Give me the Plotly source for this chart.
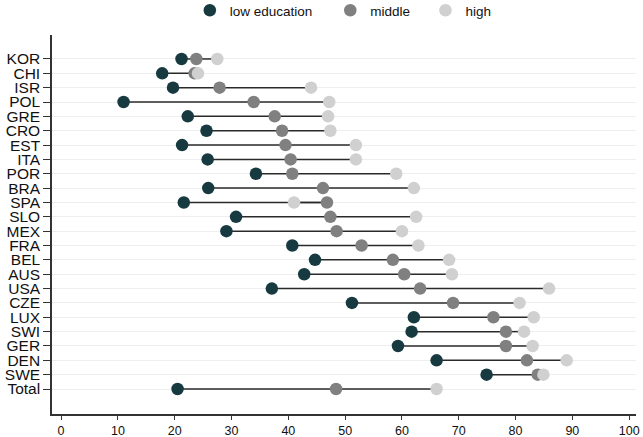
import plotly.graph_objects as go

countries = ["KOR", "CHI", "ISR", "POL", "GRE", "CRO", "EST", "ITA", "POR", "BRA", "SPA", "SLO",
             "MEX", "FRA", "BEL", "AUS", "USA", "CZE", "LUX", "SWI", "GER", "DEN", "SWE", "Total"]
low = [21.2, 17.8, 19.7, 11.0, 22.3, 25.6, 21.3, 25.8, 34.3, 25.9, 21.6, 30.8,
       29.1, 40.7, 44.7, 42.8, 37.1, 51.2, 62.1, 61.7, 59.3, 66.1, 74.9, 20.5]
middle = [23.8, 23.5, 27.9, 33.9, 37.6, 38.9, 39.5, 40.4, 40.7, 46.1, 46.8, 47.4,
          48.5, 52.9, 58.4, 60.4, 63.2, 69.0, 76.1, 78.3, 78.3, 82.0, 83.9, 48.4]
high = [27.5, 24.1, 44.0, 47.2, 47.0, 47.4, 51.9, 51.9, 59.0, 62.1, 41.0, 62.5,
        60.0, 62.9, 68.3, 68.8, 85.9, 80.7, 83.2, 81.5, 83.0, 89.0, 84.9, 66.1]
x_ticks = [0, 10, 20, 30, 40, 50, 60, 70, 80, 90, 100]

ypos = list(range(len(countries)))

lx, ly = [], []
for i in ypos:
    lx += [low[i], middle[i], None, middle[i], high[i], None]
    ly += [i, i, None, i, i, None]

fig = go.Figure()
fig.add_trace(go.Scatter(x=lx, y=ly, mode="lines", line=dict(color="#2a2a2a", width=1.5),
                         showlegend=False, hoverinfo="skip"))
series = [("low education", low, "#173a40", "legend"),
          ("middle", middle, "#808080", "legend2"),
          ("high", high, "#d0d0d0", "legend3")]
for name, vals, col, lg in series:
    fig.add_trace(go.Scatter(x=vals, y=ypos, mode="markers", name=name, legend=lg,
                             marker=dict(color=col, size=12.5, line=dict(width=0))))

def leg(x):
    return dict(orientation="h", x=x, xanchor="left", y=1.1055, yanchor="top",
                font=dict(size=13.5), bgcolor="rgba(0,0,0,0)")

fig.update_layout(
    width=643, height=437,
    margin=dict(l=52, r=7, t=35, b=23, autoexpand=False),
    paper_bgcolor="white", plot_bgcolor="white",
    font=dict(family="Liberation Sans, Arial, sans-serif", color="#111"),
    legend=leg(0.236), legend2=leg(0.4765), legend3=leg(0.6395),
    xaxis=dict(range=[-1.6, 101.2], tickvals=x_ticks, showgrid=False, zeroline=False,
               showline=True, linecolor="#333", linewidth=1.5, ticks="outside",
               ticklen=4, tickcolor="#333", tickfont=dict(size=12.5), automargin=False),
    yaxis=dict(range=[23 + 1.74, -1.67], tickvals=ypos, ticktext=countries,
               showgrid=True, gridcolor="#eeeeee", gridwidth=1, zeroline=False,
               showline=True, linecolor="#333", linewidth=1.5, ticks="outside",
               ticklen=7, tickcolor="#333", tickfont=dict(size=15.5), automargin=False),
)
fig.write_html("out.html", config={"displayModeBar": False},
               post_script="document.body.style.margin='0';")
